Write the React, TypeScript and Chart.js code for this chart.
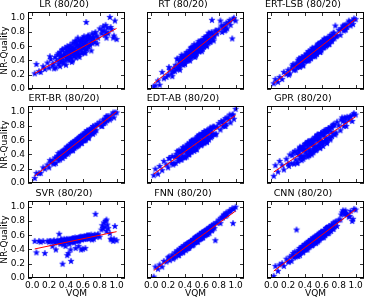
import React, { useEffect, useRef } from 'react';
import { Chart, registerables } from 'chart.js';

Chart.register(...registerables);

// Shared test-set VQM values (x axis)
const VQM = [
  0.03, 0.05, 0.08, 0.10, 0.13, 0.15, 0.18, 0.20, 0.22, 0.24,
  0.25, 0.27, 0.28, 0.29, 0.30, 0.31, 0.32, 0.33, 0.335, 0.34,
  0.35, 0.355, 0.36, 0.37, 0.375, 0.38, 0.39, 0.395, 0.40, 0.41,
  0.415, 0.42, 0.43, 0.435, 0.44, 0.45, 0.45, 0.455, 0.46, 0.47,
  0.475, 0.48, 0.49, 0.495, 0.50, 0.50, 0.51, 0.515, 0.52, 0.53,
  0.535, 0.54, 0.55, 0.55, 0.555, 0.56, 0.57, 0.575, 0.58, 0.59,
  0.595, 0.60, 0.60, 0.61, 0.615, 0.62, 0.63, 0.635, 0.64, 0.65,
  0.655, 0.66, 0.67, 0.68, 0.685, 0.69, 0.70, 0.71, 0.715, 0.72,
  0.73, 0.74, 0.75, 0.76, 0.78, 0.80, 0.82, 0.84, 0.85, 0.86,
  0.87, 0.88, 0.89, 0.90, 0.92, 0.94, 0.96, 0.97, 0.98, 1.00,
  0.21, 0.26, 0.31, 0.33, 0.34, 0.36, 0.37, 0.38, 0.40, 0.41,
  0.42, 0.43, 0.44, 0.46, 0.47, 0.48, 0.49, 0.50, 0.51, 0.52,
  0.53, 0.54, 0.55, 0.56, 0.57, 0.58, 0.59, 0.60, 0.61, 0.62,
  0.63, 0.64, 0.65, 0.66, 0.67, 0.68, 0.70, 0.72, 0.74, 0.77,
  0.45, 0.48, 0.52, 0.55, 0.58, 0.62, 0.66, 0.83, 0.88, 0.93,
];

const Y_LR = [
  0.22, 0.35, 0.25, 0.24, 0.32, 0.28, 0.37, 0.30, 0.42, 0.33,
  0.36, 0.45, 0.30, 0.40, 0.48, 0.35, 0.42, 0.52, 0.38, 0.46,
  0.40, 0.55, 0.44, 0.36, 0.50, 0.47, 0.58, 0.41, 0.52, 0.45,
  0.60, 0.48, 0.42, 0.54, 0.50, 0.46, 0.62, 0.52, 0.44, 0.56,
  0.49, 0.65, 0.53, 0.47, 0.58, 0.51, 0.68, 0.55, 0.50, 0.61,
  0.54, 0.72, 0.57, 0.48, 0.63, 0.59, 0.55, 0.66, 0.61, 0.52,
  0.70, 0.58, 0.64, 0.60, 0.74, 0.62, 0.56, 0.67, 0.94, 0.63,
  0.69, 0.60, 0.75, 0.65, 0.62, 0.72, 0.68, 0.78, 0.64, 0.73,
  0.70, 0.66, 0.80, 0.75, 0.72, 0.85, 0.78, 0.88, 0.82, 0.76,
  0.90, 0.80, 0.86, 0.78, 1.01, 0.84, 0.72, 0.75, 0.96, 0.70,
  0.46, 0.29, 0.50, 0.32, 0.47, 0.56, 0.38, 0.47, 0.34, 0.55,
  0.43, 0.59, 0.40, 0.56, 0.38, 0.60, 0.54, 0.46, 0.65, 0.44,
  0.62, 0.50, 0.68, 0.45, 0.60, 0.68, 0.50, 0.72, 0.57, 0.66,
  0.51, 0.71, 0.56, 0.75, 0.60, 0.72, 0.54, 0.72, 0.78, 0.64,
  0.57, 0.40, 0.67, 0.49, 0.69, 0.51, 0.73, 0.82, 0.72, 0.87,
];

const Y_RT = [
  0.04, 0.05, 0.12, 0.06, 0.24, 0.15, 0.17, 0.20, 0.27, 0.22,
  0.18, 0.30, 0.25, 0.34, 0.28, 0.42, 0.30, 0.36, 0.32, 0.27,
  0.38, 0.45, 0.35, 0.40, 0.44, 0.34, 0.42, 0.48, 0.37, 0.46,
  0.40, 0.50, 0.43, 0.47, 0.41, 0.52, 0.45, 0.55, 0.49, 0.44,
  0.53, 0.48, 0.56, 0.51, 0.46, 0.58, 0.50, 0.54, 0.60, 0.52,
  0.57, 0.50, 0.62, 0.55, 0.59, 0.64, 0.53, 0.60, 0.57, 0.66,
  0.58, 0.62, 0.68, 0.56, 0.64, 0.60, 0.70, 0.63, 0.66, 0.72,
  0.62, 0.68, 0.75, 0.65, 0.70, 0.78, 0.67, 0.72, 0.80, 0.97,
  0.70, 0.76, 0.74, 0.82, 0.78, 0.84, 0.96, 0.80, 0.86, 0.90,
  0.82, 0.88, 0.93, 0.85, 0.94, 0.90, 0.71, 0.98, 1.00, 0.96,
  0.31, 0.25, 0.43, 0.29, 0.40, 0.48, 0.36, 0.46, 0.35, 0.46,
  0.52, 0.40, 0.51, 0.40, 0.58, 0.49, 0.58, 0.46, 0.63, 0.51,
  0.47, 0.61, 0.54, 0.67, 0.53, 0.62, 0.68, 0.53, 0.67, 0.59,
  0.73, 0.62, 0.73, 0.60, 0.72, 0.79, 0.66, 0.78, 0.68, 0.82,
  0.42, 0.59, 0.45, 0.62, 0.67, 0.60, 0.74, 0.89, 0.83, 0.97,
];

const Y_ERT_LSB = [
  0.08, 0.14, 0.10, 0.17, 0.14, 0.24, 0.21, 0.27, 0.22, 0.29,
  0.33, 0.27, 0.33, 0.27, 0.37, 0.33, 0.41, 0.32, 0.37, 0.40,
  0.33, 0.40, 0.45, 0.37, 0.34, 0.44, 0.40, 0.47, 0.39, 0.45,
  0.40, 0.49, 0.43, 0.49, 0.40, 0.48, 0.53, 0.44, 0.52, 0.44,
  0.52, 0.48, 0.57, 0.47, 0.52, 0.46, 0.56, 0.52, 0.58, 0.51,
  0.57, 0.50, 0.60, 0.54, 0.63, 0.53, 0.59, 0.64, 0.56, 0.63,
  0.54, 0.65, 0.60, 0.67, 0.59, 0.65, 0.59, 0.70, 0.63, 0.69,
  0.70, 0.63, 0.72, 0.64, 0.71, 0.63, 0.73, 0.72, 0.67, 0.76,
  0.71, 0.79, 0.71, 0.89, 0.75, 0.83, 0.76, 0.85, 0.89, 0.82,
  0.90, 0.83, 0.91, 0.87, 0.96, 0.89, 0.96, 0.91, 0.99, 0.98,
  0.20, 0.35, 0.31, 0.43, 0.31, 0.41, 0.44, 0.33, 0.46, 0.41,
  0.50, 0.40, 0.53, 0.45, 0.43, 0.54, 0.58, 0.48, 0.54, 0.46,
  0.59, 0.49, 0.59, 0.64, 0.54, 0.52, 0.66, 0.59, 0.67, 0.58,
  0.71, 0.62, 0.60, 0.71, 0.69, 0.63, 0.76, 0.68, 0.79, 0.74,
  0.41, 0.55, 0.48, 0.62, 0.52, 0.67, 0.62, 0.85, 0.84, 0.94,
];

const Y_ERT_BR = [
  0.07, 0.14, 0.14, 0.14, 0.22, 0.20, 0.26, 0.22, 0.29, 0.32,
  0.28, 0.36, 0.28, 0.35, 0.38, 0.32, 0.39, 0.37, 0.43, 0.36,
  0.44, 0.37, 0.42, 0.46, 0.38, 0.44, 0.38, 0.47, 0.44, 0.43,
  0.51, 0.45, 0.50, 0.43, 0.50, 0.46, 0.53, 0.50, 0.46, 0.54,
  0.48, 0.57, 0.51, 0.55, 0.49, 0.58, 0.53, 0.58, 0.51, 0.61,
  0.58, 0.53, 0.61, 0.55, 0.64, 0.57, 0.64, 0.56, 0.63, 0.61,
  0.66, 0.60, 0.68, 0.63, 0.60, 0.68, 0.67, 0.61, 0.71, 0.66,
  0.65, 0.73, 0.65, 0.72, 0.75, 0.69, 0.77, 0.70, 0.75, 0.69,
  0.78, 0.74, 0.81, 0.74, 0.82, 0.86, 0.80, 0.89, 0.84, 0.90,
  0.85, 0.93, 0.88, 0.94, 0.89, 0.96, 0.99, 0.92, 0.99, 0.99,
  0.32, 0.27, 0.42, 0.33, 0.42, 0.35, 0.43, 0.47, 0.41, 0.51,
  0.41, 0.51, 0.46, 0.56, 0.54, 0.46, 0.58, 0.51, 0.60, 0.56,
  0.52, 0.63, 0.53, 0.61, 0.65, 0.64, 0.56, 0.67, 0.61, 0.71,
  0.61, 0.71, 0.74, 0.64, 0.63, 0.75, 0.70, 0.80, 0.71, 0.83,
  0.54, 0.46, 0.59, 0.55, 0.67, 0.60, 0.73, 0.80, 0.94, 0.91,
];

const Y_EDT_AB = [
  0.11, 0.20, 0.13, 0.24, 0.18, 0.31, 0.26, 0.22, 0.35, 0.28,
  0.38, 0.28, 0.37, 0.28, 0.41, 0.37, 0.31, 0.46, 0.36, 0.43,
  0.33, 0.45, 0.43, 0.38, 0.50, 0.36, 0.46, 0.50, 0.36, 0.46,
  0.51, 0.43, 0.55, 0.41, 0.49, 0.40, 0.53, 0.48, 0.56, 0.46,
  0.53, 0.44, 0.58, 0.50, 0.61, 0.48, 0.54, 0.61, 0.48, 0.59,
  0.48, 0.61, 0.55, 0.64, 0.52, 0.61, 0.67, 0.55, 0.61, 0.53,
  0.67, 0.57, 0.69, 0.56, 0.63, 0.68, 0.56, 0.68, 0.61, 0.72,
  0.61, 0.74, 0.64, 0.73, 0.61, 0.71, 0.76, 0.64, 0.75, 0.69,
  0.79, 0.69, 0.79, 0.68, 0.79, 0.84, 0.75, 0.85, 0.80, 0.88,
  0.80, 0.91, 0.83, 0.92, 0.90, 0.85, 0.96, 0.96, 0.90, 1.04,
  0.35, 0.26, 0.45, 0.34, 0.44, 0.33, 0.45, 0.50, 0.37, 0.49,
  0.37, 0.53, 0.44, 0.57, 0.44, 0.60, 0.50, 0.58, 0.45, 0.61,
  0.59, 0.47, 0.64, 0.53, 0.68, 0.56, 0.66, 0.54, 0.70, 0.59,
  0.73, 0.58, 0.69, 0.58, 0.74, 0.65, 0.78, 0.66, 0.79, 0.69,
  0.41, 0.59, 0.48, 0.66, 0.55, 0.70, 0.58, 0.87, 0.80, 0.96,
];

const Y_GPR = [
  0.10, 0.25, 0.16, 0.31, 0.25, 0.19, 0.34, 0.27, 0.40, 0.28,
  0.39, 0.27, 0.45, 0.33, 0.42, 0.29, 0.47, 0.40, 0.34, 0.49,
  0.37, 0.48, 0.32, 0.47, 0.52, 0.38, 0.46, 0.37, 0.55, 0.44,
  0.54, 0.41, 0.50, 0.58, 0.39, 0.54, 0.47, 0.58, 0.43, 0.55,
  0.43, 0.61, 0.54, 0.48, 0.60, 0.43, 0.60, 0.51, 0.64, 0.49,
  0.61, 0.47, 0.67, 0.53, 0.60, 0.66, 0.52, 0.65, 0.57, 0.70,
  0.55, 0.70, 0.58, 0.69, 0.52, 0.67, 0.71, 0.59, 0.74, 0.63,
  0.72, 0.58, 0.72, 0.77, 0.64, 0.76, 0.63, 0.79, 0.72, 0.66,
  0.81, 0.69, 0.81, 0.68, 0.86, 0.81, 0.74, 0.92, 0.87, 0.80,
  0.92, 0.86, 0.80, 0.93, 0.89, 0.94, 0.87, 0.96, 0.98, 0.96,
  0.24, 0.43, 0.28, 0.44, 0.51, 0.38, 0.50, 0.34, 0.48, 0.56,
  0.55, 0.37, 0.59, 0.45, 0.57, 0.40, 0.61, 0.55, 0.46, 0.65,
  0.46, 0.63, 0.68, 0.52, 0.63, 0.49, 0.70, 0.58, 0.70, 0.56,
  0.74, 0.59, 0.74, 0.56, 0.73, 0.77, 0.61, 0.78, 0.83, 0.71,
  0.39, 0.59, 0.48, 0.68, 0.50, 0.69, 0.60, 0.89, 0.91, 0.93,
];

const Y_SVR = [
  0.52, 0.36, 0.52, 0.51, 0.52, 0.35, 0.52, 0.51, 0.52, 0.45,
  0.52, 0.50, 0.40, 0.52, 0.53, 0.51, 0.62, 0.52, 0.48, 0.53,
  0.51, 0.54, 0.20, 0.52, 0.50, 0.55, 0.53, 0.45, 0.52, 0.54,
  0.32, 0.53, 0.51, 0.55, 0.48, 0.54, 0.53, 0.40, 0.24, 0.55,
  0.52, 0.56, 0.54, 0.50, 0.55, 0.53, 0.57, 0.42, 0.54, 0.56,
  0.55, 0.53, 0.57, 0.45, 0.56, 0.54, 0.58, 0.55, 0.40, 0.57,
  0.56, 0.58, 0.41, 0.57, 0.55, 0.59, 0.42, 0.58, 0.56, 0.60,
  0.57, 0.59, 0.55, 0.60, 0.58, 0.56, 0.61, 0.54, 0.59, 0.57,
  0.55, 0.60, 0.90, 0.58, 0.62, 0.58, 0.68, 0.70, 0.78, 0.72,
  0.80, 0.66, 0.75, 0.70, 0.63, 0.54, 0.52, 0.55, 0.73, 0.53,
  0.52, 0.53, 0.51, 0.50, 0.54, 0.52, 0.47, 0.53, 0.51, 0.55,
  0.53, 0.35, 0.52, 0.55, 0.51, 0.54, 0.56, 0.52, 0.55, 0.53,
  0.56, 0.54, 0.52, 0.57, 0.55, 0.58, 0.54, 0.57, 0.56, 0.55,
  0.58, 0.56, 0.59, 0.57, 0.60, 0.58, 0.57, 0.59, 0.61, 0.60,
  0.53, 0.51, 0.55, 0.53, 0.56, 0.57, 0.58, 0.74, 0.82, 0.55,
];

const Y_FNN = [
  0.02, 0.16, 0.13, 0.19, 0.16, 0.24, 0.23, 0.29, 0.25, 0.30,
  0.33, 0.29, 0.36, 0.30, 0.35, 0.39, 0.32, 0.38, 0.36, 0.40,
  0.35, 0.43, 0.38, 0.43, 0.36, 0.43, 0.46, 0.40, 0.43, 0.39,
  0.47, 0.42, 0.49, 0.42, 0.48, 0.43, 0.50, 0.48, 0.45, 0.52,
  0.47, 0.52, 0.46, 0.53, 0.55, 0.48, 0.53, 0.50, 0.57, 0.51,
  0.58, 0.52, 0.57, 0.51, 0.59, 0.57, 0.54, 0.62, 0.56, 0.62,
  0.56, 0.64, 0.58, 0.64, 0.57, 0.63, 0.66, 0.60, 0.64, 0.62,
  0.68, 0.62, 0.68, 0.65, 0.71, 0.63, 0.71, 0.70, 0.67, 0.74,
  0.69, 0.76, 0.70, 0.53, 0.78, 0.82, 0.77, 0.86, 0.85, 0.89,
  0.88, 0.87, 0.92, 0.89, 0.93, 0.94, 0.98, 0.77, 0.97, 1.00,
  0.30, 0.27, 0.37, 0.32, 0.41, 0.37, 0.43, 0.37, 0.43, 0.47,
  0.41, 0.49, 0.42, 0.50, 0.52, 0.46, 0.51, 0.47, 0.55, 0.51,
  0.58, 0.52, 0.51, 0.59, 0.56, 0.62, 0.56, 0.62, 0.57, 0.64,
  0.60, 0.67, 0.61, 0.68, 0.62, 0.69, 0.72, 0.67, 0.74, 0.78,
  0.43, 0.52, 0.51, 0.59, 0.55, 0.62, 0.63, 0.84, 0.90, 0.95,
];

const Y_CNN = [
  0.03, 0.17, 0.10, 0.19, 0.21, 0.17, 0.27, 0.23, 0.30, 0.24,
  0.32, 0.29, 0.37, 0.30, 0.68, 0.37, 0.31, 0.39, 0.42, 0.35,
  0.42, 0.36, 0.41, 0.45, 0.36, 0.44, 0.40, 0.47, 0.40, 0.46,
  0.40, 0.48, 0.44, 0.51, 0.43, 0.49, 0.52, 0.44, 0.51, 0.47,
  0.54, 0.47, 0.53, 0.47, 0.56, 0.52, 0.49, 0.58, 0.51, 0.57,
  0.51, 0.59, 0.54, 0.61, 0.53, 0.59, 0.62, 0.54, 0.62, 0.57,
  0.64, 0.57, 0.65, 0.59, 0.65, 0.58, 0.67, 0.65, 0.61, 0.70,
  0.63, 0.70, 0.63, 0.71, 0.73, 0.65, 0.71, 0.66, 0.75, 0.72,
  0.69, 0.78, 0.72, 0.79, 0.73, 0.82, 0.82, 0.92, 0.95, 0.93,
  0.90, 0.95, 0.90, 0.89, 0.86, 0.94, 0.80, 0.83, 0.97, 0.96,
  0.23, 0.35, 0.31, 0.39, 0.32, 0.43, 0.42, 0.37, 0.48, 0.42,
  0.48, 0.40, 0.49, 0.46, 0.54, 0.46, 0.53, 0.57, 0.49, 0.57,
  0.49, 0.58, 0.61, 0.53, 0.60, 0.56, 0.65, 0.58, 0.65, 0.57,
  0.66, 0.60, 0.70, 0.63, 0.71, 0.63, 0.71, 0.75, 0.69, 0.79,
  0.52, 0.46, 0.56, 0.51, 0.63, 0.60, 0.71, 0.89, 0.91, 0.87,
];

const TITLES = [
  'LR (80/20)', 'RT (80/20)', 'ERT-LSB (80/20)',
  'ERT-BR (80/20)', 'EDT-AB (80/20)', 'GPR (80/20)',
  'SVR (80/20)', 'FNN (80/20)', 'CNN (80/20)',
];
const SERIES = [Y_LR, Y_RT, Y_ERT_LSB, Y_ERT_BR, Y_EDT_AB, Y_GPR, Y_SVR, Y_FNN, Y_CNN];

// Regression line: y = intercept + slope * x
const FIT_INTERCEPT = [0.20, 0.05, 0.05, 0.07, 0.10, 0.13, 0.40, 0.08, 0.07];
const FIT_SLOPE = [0.65, 0.95, 0.93, 0.93, 0.85, 0.80, 0.25, 0.86, 0.89];

const TICK_VALUES = [0, 0.2, 0.4, 0.6, 0.8, 1.0];
const TICK_LABELS = ['0.0', '0.2', '0.4', '0.6', '0.8', '1.0'];

const X_MIN = -0.05;
const X_MAX = 1.1;
const Y_MIN = 0;
const Y_MAX = 1.08;

const FONT = 'DejaVu Sans';

// layout
const PLOT_LEFT = [28, 147, 267];
const PLOT_TOP = [12, 106, 201];
const LEFT_W = 28;
const TOP_H = 12;
const PLOT_W = 100;
const PLOT_H = 77;
const BOTTOM_H = 21;
const RIGHT_PAD = 2;

function makeStar(): HTMLCanvasElement {
  const c = document.createElement('canvas');
  c.width = 8;
  c.height = 8;
  const g = c.getContext('2d') as CanvasRenderingContext2D;
  g.beginPath();
  for (let i = 0; i < 10; i++) {
    const r = i % 2 === 0 ? 3.3 : 1.35;
    const a = -Math.PI / 2 + (i * Math.PI) / 5;
    const px = 4 + r * Math.cos(a);
    const py = 4.3 + r * Math.sin(a);
    if (i === 0) g.moveTo(px, py);
    else g.lineTo(px, py);
  }
  g.closePath();
  g.fillStyle = '#0000ff';
  g.fill();
  g.strokeStyle = '#0000ff';
  g.lineWidth = 0.4;
  g.stroke();
  return c;
}

const framePlugin = {
  id: 'frameTicks',
  afterDatasetsDraw(chart: any) {
    const { ctx, chartArea, scales } = chart;
    const { left, top, right, bottom } = chartArea;
    ctx.save();
    ctx.strokeStyle = '#000000';
    ctx.lineWidth = 1;
    ctx.strokeRect(left + 0.5, top + 0.5, right - left - 1, bottom - top - 1);
    const tl = 4;
    ctx.lineWidth = 0.8;
    ctx.beginPath();
    scales.x.ticks.forEach((t: any) => {
      const p = Math.round(scales.x.getPixelForValue(t.value)) + 0.5;
      ctx.moveTo(p, bottom);
      ctx.lineTo(p, bottom - tl);
      ctx.moveTo(p, top);
      ctx.lineTo(p, top + tl);
    });
    scales.y.ticks.forEach((t: any) => {
      const p = Math.round(scales.y.getPixelForValue(t.value)) + 0.5;
      ctx.moveTo(left, p);
      ctx.lineTo(left + tl, p);
      ctx.moveTo(right, p);
      ctx.lineTo(right - tl, p);
    });
    ctx.stroke();
    ctx.restore();
  },
};

function Panel({ idx, star }: { idx: number; star: HTMLCanvasElement }) {
  const ref = useRef<HTMLCanvasElement>(null);
  const row = Math.floor(idx / 3);
  const col = idx % 3;

  useEffect(() => {
    const ys = SERIES[idx];
    const pts = VQM.map((x, i) => ({ x, y: ys[i] }));
    const x0 = Math.min(...VQM);
    const x1 = Math.max(...VQM);
    const line = [x0, x1].map((x) => ({ x, y: FIT_INTERCEPT[idx] + FIT_SLOPE[idx] * x }));
    const showX = row === 2;
    const showY = col === 0;
    const setTicks = (scale: any) => {
      scale.ticks = TICK_VALUES.map((v) => ({ value: v }));
    };
    const chart = new Chart(ref.current as HTMLCanvasElement, {
      type: 'scatter',
      data: {
        datasets: [
          {
            type: 'line',
            data: line,
            borderColor: '#ff0000',
            borderWidth: 1,
            pointRadius: 0,
            fill: false,
            order: 0,
          } as any,
          {
            type: 'scatter',
            data: pts,
            pointStyle: star as any,
            pointRadius: 4,
            order: 1,
          } as any,
        ],
      },
      options: {
        responsive: false,
        animation: false,
        devicePixelRatio: 1,
        layout: { padding: { left: 0, right: RIGHT_PAD, top: 0, bottom: 0 } },
        plugins: {
          legend: { display: false },
          tooltip: { enabled: false },
          title: {
            display: true,
            text: TITLES[idx],
            color: '#000000',
            font: { family: FONT, size: 9.5, weight: 'normal', lineHeight: '9px' },
            padding: { top: 0, bottom: 3 },
          },
        },
        scales: {
          x: {
            type: 'linear',
            min: X_MIN,
            max: X_MAX,
            afterBuildTicks: setTicks,
            afterFit: (s: any) => {
              s.height = BOTTOM_H;
            },
            grid: { display: false, drawTicks: false },
            border: { display: false },
            ticks: {
              display: showX,
              autoSkip: false,
              maxRotation: 0,
              padding: 2,
              color: '#000000',
              font: { family: FONT, size: 9 },
              callback: (_v: any, i: number) => TICK_LABELS[i],
            },
            title: {
              display: showX,
              text: 'VQM',
              color: '#000000',
              font: { family: FONT, size: 9, lineHeight: 1 },
              padding: { top: 0, bottom: 0.5 },
            },
          },
          y: {
            type: 'linear',
            min: Y_MIN,
            max: Y_MAX,
            afterBuildTicks: setTicks,
            afterFit: (s: any) => {
              s.width = LEFT_W;
            },
            grid: { display: false, drawTicks: false },
            border: { display: false },
            ticks: {
              display: showY,
              autoSkip: false,
              padding: 3,
              color: '#000000',
              font: { family: FONT, size: 9 },
              callback: (_v: any, i: number) => TICK_LABELS[i],
            },
            title: {
              display: showY,
              text: 'NR-Quality',
              color: '#000000',
              font: { family: FONT, size: 9, lineHeight: 1 },
              padding: { top: 0, bottom: 0 },
            },
          },
        },
      } as any,
      plugins: [framePlugin],
    });
    return () => chart.destroy();
  }, [idx, star, row, col]);

  const w = LEFT_W + PLOT_W + RIGHT_PAD;
  const h = TOP_H + PLOT_H + BOTTOM_H;
  return (
    <canvas
      ref={ref}
      width={w}
      height={h}
      style={{
        position: 'absolute',
        left: PLOT_LEFT[col] - LEFT_W,
        top: PLOT_TOP[row] - TOP_H,
        width: w,
        height: h,
        display: 'block',
      }}
    />
  );
}

export default function App() {
  const starRef = useRef<HTMLCanvasElement | null>(null);
  if (!starRef.current) starRef.current = makeStar();
  return (
    <div
      style={{
        position: 'absolute',
        left: 0,
        top: 0,
        width: 370,
        height: 299,
        background: '#ffffff',
        overflow: 'hidden',
      }}
    >
      {TITLES.map((_, i) => (
        <Panel key={i} idx={i} star={starRef.current as HTMLCanvasElement} />
      ))}
    </div>
  );
}
